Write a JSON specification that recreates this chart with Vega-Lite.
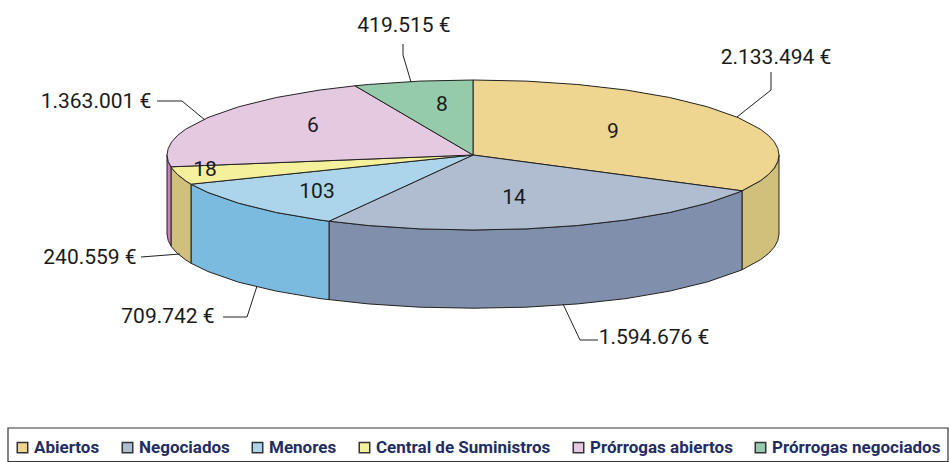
{"$schema":"https://vega.github.io/schema/vega-lite/v6.json","width":949,"height":462,"padding":0,"autosize":{"type":"none"},"background":"white",
"config":{"view":{"stroke":null},"locale":{"number":{"decimal":",","thousands":".","grouping":[3],"currency":[""," €"]}}},
"datasets":{"porciones":[
{"slice":"Abiertos","importe":2133494,"contratos":9,"importeX":303,"importeY":98,"contratosX":140,"contratosY":24,
"topX":[0,0,53.1,104.7,153,196.7,234.4,265,287.5,295.6,301.4,304.8,306,304.8,301.4,295.6,287.5,269,0],
"topY":[0,75,73.9,70.5,65,57.5,48.2,37.5,25.7,19.4,13,6.5,0,-6.5,-13,-19.4,-25.7,-35.8,0],
"sideX":[306,304.8,301.4,295.6,287.5,269,269,287.5,295.6,301.4,304.8,306,306],
"sideY":[0,-6.5,-13,-19.4,-25.7,-35.8,-114.8,-104.7,-98.4,-92,-85.5,-79,0],
"leadX":[264,298,298],"leadY":[38,65,83]},
{"slice":"Negociados","importe":1594676,"contratos":14,"importeX":181,"importeY":-182,"contratosX":41,"contratosY":-42,
"topX":[0,269,265,234.4,196.7,153,104.7,53.1,0,-53.1,-104.7,-144,0],
"topY":[0,-35.8,-37.5,-48.2,-57.5,-65,-70.5,-73.9,-75,-73.9,-70.5,-66.2,0],
"sideX":[269,265,234.4,196.7,153,104.7,53.1,0,-53.1,-104.7,-144,-144,-104.7,-53.1,0,53.1,104.7,153,196.7,234.4,265,269,269],
"sideY":[-35.8,-37.5,-48.2,-57.5,-65,-70.5,-73.9,-75,-73.9,-70.5,-66.2,-144.6,-148.9,-152.2,-153.2,-152.2,-148.9,-143.6,-136.1,-126.9,-116.3,-114.8,-35.8],
"leadX":[90,107,125],"leadY":[-149,-185,-185]},
{"slice":"Menores","importe":709742,"contratos":103,"importeX":-305,"importeY":-161,"contratosX":-156,"contratosY":-36,
"topX":[0,-144,-153,-196.7,-234.4,-265,-282,0],
"topY":[0,-66.2,-65,-57.5,-48.2,-37.5,-29.2,0],
"sideX":[-144,-153,-196.7,-234.4,-265,-282,-282,-265,-234.4,-196.7,-153,-144,-144],
"sideY":[-66.2,-65,-57.5,-48.2,-37.5,-29.2,-108.2,-116.5,-127.2,-136.1,-143.6,-144.6,-66.2],
"leadX":[-216,-226,-250],"leadY":[-131,-162,-162]},
{"slice":"Central de Suministros","importe":240559,"contratos":18,"importeX":-383,"importeY":-102,"contratosX":-268,"contratosY":-14,
"topX":[0,-282,-287.5,-295.6,-301.4,-302,0],
"topY":[0,-29.2,-25.7,-19.4,-13,-11.8,0],
"sideX":[-282,-287.5,-295.6,-301.4,-302,-302,-301.4,-295.6,-287.5,-282,-282],
"sideY":[-29.2,-25.7,-19.4,-13,-11.8,-90.8,-92,-98.4,-104.7,-108.2,-29.2],
"leadX":[-293,-332],"leadY":[-99,-102]},
{"slice":"Prórrogas abiertos","importe":1363001,"contratos":6,"importeX":-377,"importeY":54,"contratosX":-160,"contratosY":30,
"topX":[0,-302,-304.8,-306,-304.8,-301.4,-295.6,-287.5,-265,-234.4,-196.7,-153,-118,0],
"topY":[0,-11.8,-6.5,0,6.5,13,19.4,25.7,37.5,48.2,57.5,65,69.2,0],
"sideX":[-302,-304.8,-306,-306,-304.8,-302,-302],
"sideY":[-11.8,-6.5,0,-79,-85.5,-90.8,-11.8],
"leadX":[-268,-291,-316],"leadY":[35,54,54]},
{"slice":"Prórrogas negociados","importe":419515,"contratos":8,"importeX":-69,"importeY":130,"contratosX":-31,"contratosY":51,
"topX":[0,-118,-104.7,-53.1,0,0],
"topY":[0,69.2,70.5,73.9,75,0],
"sideX":[],"sideY":[],
"leadX":[-62,-70,-70],"leadY":[73,100,111]}
]},
"layer":[
{"data":{"values":[{"x":-465,"x2":475,"y":-273,"y2":-306.5}]},
 "mark":{"type":"rect","fill":"white","stroke":"#333333","strokeWidth":1.2},
 "encoding":{"x":{"field":"x","type":"quantitative","scale":{"domain":[-473,476]},"axis":null},"x2":{"field":"x2"},"y":{"field":"y","type":"quantitative","scale":{"domain":[-307,155]},"axis":null},"y2":{"field":"y2"}}},
{"data":{"name":"porciones"},"transform":[{"flatten":["sideX","sideY"]},{"filter":"datum.sideX != null"},{"window":[{"op":"row_number","as":"o"}]}],
 "mark":{"type":"line","filled":true,"stroke":"#222222","strokeWidth":1,"strokeJoin":"round"},
 "encoding":{"x":{"field":"sideX","type":"quantitative","scale":{"domain":[-473,476]},"axis":null},"y":{"field":"sideY","type":"quantitative","scale":{"domain":[-307,155]},"axis":null},"order":{"field":"o","type":"quantitative"},
 "color":{"field":"slice","type":"nominal","legend":null,"scale":{"domain":["Abiertos","Negociados","Menores","Central de Suministros","Prórrogas abiertos","Prórrogas negociados"],"range":["#d1bf7c","#8090ac","#7bbbe0","#d1bf7c","#c483bb","#6fb08c"]}}}},
{"data":{"name":"porciones"},"transform":[{"flatten":["topX","topY"]},{"window":[{"op":"row_number","as":"o"}]}],
 "mark":{"type":"line","filled":true,"stroke":"#222222","strokeWidth":1,"strokeJoin":"round"},
 "encoding":{"x":{"field":"topX","type":"quantitative","scale":{"domain":[-473,476]},"axis":null},"y":{"field":"topY","type":"quantitative","scale":{"domain":[-307,155]},"axis":null},"order":{"field":"o","type":"quantitative"},
 "color":{"field":"slice","type":"nominal","scale":{"domain":["Abiertos","Negociados","Menores","Central de Suministros","Prórrogas abiertos","Prórrogas negociados"],"range":["#eed690","#b0bccf","#acd5ec","#f4f09c","#e5c9e1","#95cbab"]},
 "legend":{"title":null,"orient":"none","legendX":14,"legendY":439,"direction":"horizontal","columns":6,"columnPadding":19,"symbolType":"square","symbolSize":110,"symbolStrokeColor":"#333333","symbolStrokeWidth":1.5,"labelFont":"Roboto","labelFontWeight":"bold","labelFontSize":17,"labelColor":"#1f2d63","labelOffset":3,"labelLimit":300}}}},
{"data":{"name":"porciones"},"transform":[{"flatten":["leadX","leadY"]},{"window":[{"op":"row_number","as":"o"}]}],
 "mark":{"type":"line","stroke":"#222222","strokeWidth":1},
 "encoding":{"x":{"field":"leadX","type":"quantitative","scale":{"domain":[-473,476]},"axis":null},"y":{"field":"leadY","type":"quantitative","scale":{"domain":[-307,155]},"axis":null},"order":{"field":"o","type":"quantitative"},"detail":{"field":"slice"}}},
{"data":{"name":"porciones"},
 "mark":{"type":"text","font":"Roboto","fontSize":21,"color":"#1a1a1a","align":"center","baseline":"middle","dy":1},
 "encoding":{"x":{"field":"importeX","type":"quantitative","scale":{"domain":[-473,476]},"axis":null},"y":{"field":"importeY","type":"quantitative","scale":{"domain":[-307,155]},"axis":null},"text":{"field":"importe","type":"quantitative","format":"$,.0f"}}},
{"data":{"name":"porciones"},
 "mark":{"type":"text","font":"Roboto","fontSize":21,"color":"#1a1a1a","align":"center","baseline":"middle","dy":1},
 "encoding":{"x":{"field":"contratosX","type":"quantitative","scale":{"domain":[-473,476]},"axis":null},"y":{"field":"contratosY","type":"quantitative","scale":{"domain":[-307,155]},"axis":null},"text":{"field":"contratos","type":"quantitative"}}}
],
"resolve":{"scale":{"color":"independent"}}}
